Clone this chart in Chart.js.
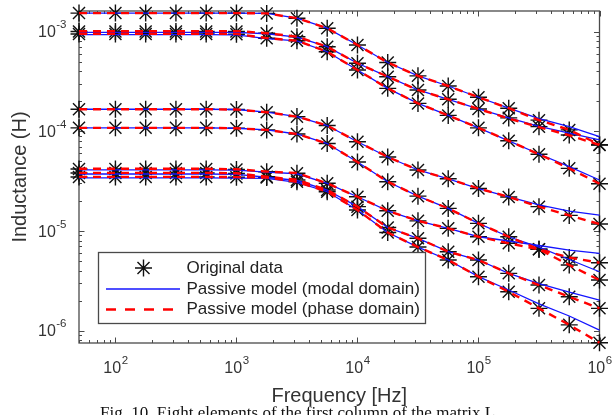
<!DOCTYPE html>
<html><head><meta charset="utf-8">
<script src="https://cdn.jsdelivr.net/npm/chart.js@4.4.1/dist/chart.umd.min.js"></script>
<style>html,body{margin:0;padding:0;background:#fff;}canvas{display:block;}</style>
</head><body>
<canvas id="c" width="615" height="415"></canvas>
<script>
// ---------- data ----------
const freqHz = [50,100,177.8,316.2,562.3,1000,1778,3162,5623,10000,17783,31623,56234,100000,177828,316228,562341,1000000];

// Original data (asterisks), eight elements
const dataA = [1.53e-3,1.53e-3,1.53e-3,1.53e-3,1.53e-3,1.53e-3,1.52e-3,1.36e-3,1.08e-3,7.32e-4,4.89e-4,3.59e-4,2.84e-4,2.19e-4,1.70e-4,1.29e-4,1.03e-4,7.32e-5];
const dataB = [1.00e-3,1.00e-3,1.00e-3,1.00e-3,1.00e-3,1.00e-3,9.59e-4,8.87e-4,7.04e-4,4.80e-4,3.52e-4,2.59e-4,2.09e-4,1.67e-4,1.36e-4,1.11e-4,9.15e-5,7.27e-5];
const dataC = [9.44e-4,9.44e-4,9.44e-4,9.44e-4,9.44e-4,9.40e-4,8.55e-4,8.09e-4,6.27e-4,4.11e-4,2.69e-4,1.90e-4,1.44e-4,1.08e-4,8.01e-5,5.87e-5,4.24e-5,2.97e-5];
const dataD = [1.66e-4,1.66e-4,1.66e-4,1.66e-4,1.66e-4,1.65e-4,1.55e-4,1.40e-4,1.14e-4,7.84e-5,5.51e-5,4.08e-5,3.33e-5,2.66e-5,2.19e-5,1.75e-5,1.43e-5,1.17e-5];
const dataE = [1.08e-4,1.08e-4,1.08e-4,1.08e-4,1.08e-4,1.07e-4,1.03e-4,9.37e-5,7.52e-5,4.91e-5,3.11e-5,2.23e-5,1.68e-5,1.19e-5,8.73e-6,6.53e-6,4.54e-6,3.21e-6];
const dataF = [4.17e-5,4.17e-5,4.17e-5,4.17e-5,4.17e-5,4.12e-5,3.92e-5,3.78e-5,3.00e-5,2.20e-5,1.59e-5,1.26e-5,1.06e-5,8.73e-6,7.50e-6,6.53e-6,5.40e-6,4.79e-6];
const dataG = [3.80e-5,3.80e-5,3.80e-5,3.80e-5,3.80e-5,3.76e-5,3.49e-5,3.24e-5,2.57e-5,1.75e-5,1.08e-5,8.42e-6,6.18e-6,5.10e-6,3.75e-6,2.86e-6,2.18e-6,1.67e-6];
const dataH = [3.47e-5,3.47e-5,3.47e-5,3.47e-5,3.47e-5,3.45e-5,3.43e-5,3.11e-5,2.47e-5,1.62e-5,9.62e-6,6.88e-6,5.10e-6,3.47e-6,2.45e-6,1.67e-6,1.14e-6,7.54e-7];

// Passive model (modal domain) - blue solid
const modalA = [1.53e-3,1.53e-3,1.53e-3,1.53e-3,1.53e-3,1.53e-3,1.52e-3,1.36e-3,1.08e-3,7.32e-4,4.89e-4,3.59e-4,2.84e-4,2.19e-4,1.70e-4,1.34e-4,1.11e-4,8.80e-5];
const modalB = [9.80e-4,9.80e-4,9.80e-4,9.80e-4,9.80e-4,9.78e-4,9.50e-4,8.80e-4,7.04e-4,4.80e-4,3.52e-4,2.59e-4,2.09e-4,1.67e-4,1.36e-4,1.12e-4,9.58e-5,8.16e-5];
const modalC = [9.30e-4,9.30e-4,9.30e-4,9.30e-4,9.30e-4,9.26e-4,8.50e-4,8.05e-4,6.27e-4,4.11e-4,2.69e-4,1.90e-4,1.44e-4,1.08e-4,8.01e-5,5.90e-5,4.41e-5,3.24e-5];
const modalD = [1.66e-4,1.66e-4,1.66e-4,1.66e-4,1.66e-4,1.65e-4,1.55e-4,1.40e-4,1.14e-4,7.84e-5,5.51e-5,4.08e-5,3.33e-5,2.66e-5,2.19e-5,1.82e-5,1.58e-5,1.44e-5];
const modalE = [1.08e-4,1.08e-4,1.08e-4,1.08e-4,1.08e-4,1.07e-4,1.03e-4,9.37e-5,7.52e-5,4.91e-5,3.11e-5,2.23e-5,1.68e-5,1.19e-5,8.73e-6,6.88e-6,5.16e-6,3.89e-6];
const modalF = [4.10e-5,4.10e-5,4.10e-5,4.10e-5,4.10e-5,4.06e-5,3.88e-5,3.74e-5,3.00e-5,2.20e-5,1.59e-5,1.26e-5,1.06e-5,8.73e-6,7.91e-6,7.13e-6,6.42e-6,5.95e-6];
const modalG = [3.72e-5,3.72e-5,3.72e-5,3.72e-5,3.72e-5,3.68e-5,3.45e-5,3.20e-5,2.57e-5,1.75e-5,1.08e-5,8.42e-6,6.18e-6,5.10e-6,3.75e-6,2.96e-6,2.43e-6,2.02e-6];
const modalH = [3.40e-5,3.40e-5,3.40e-5,3.40e-5,3.40e-5,3.38e-5,3.36e-5,3.07e-5,2.47e-5,1.62e-5,9.62e-6,6.88e-6,5.10e-6,3.47e-6,2.55e-6,1.85e-6,1.40e-6,1.01e-6];

// Passive model (phase domain) - red dashed
const phaseA = [1.53e-3,1.53e-3,1.53e-3,1.53e-3,1.53e-3,1.53e-3,1.52e-3,1.36e-3,1.08e-3,7.32e-4,4.89e-4,3.59e-4,2.84e-4,2.19e-4,1.70e-4,1.29e-4,1.03e-4,7.32e-5];
const phaseB = [1.01e-3,1.01e-3,1.01e-3,1.01e-3,1.01e-3,1.01e-3,9.62e-4,8.87e-4,7.04e-4,4.80e-4,3.52e-4,2.59e-4,2.09e-4,1.67e-4,1.34e-4,1.10e-4,9.10e-5,7.27e-5];
const phaseC = [9.50e-4,9.50e-4,9.50e-4,9.50e-4,9.50e-4,9.46e-4,8.58e-4,8.09e-4,6.27e-4,4.11e-4,2.69e-4,1.90e-4,1.44e-4,1.08e-4,8.01e-5,5.87e-5,4.24e-5,2.97e-5];
const phaseD = [1.66e-4,1.66e-4,1.66e-4,1.66e-4,1.66e-4,1.65e-4,1.55e-4,1.40e-4,1.14e-4,7.84e-5,5.51e-5,4.08e-5,3.33e-5,2.66e-5,2.19e-5,1.75e-5,1.43e-5,1.17e-5];
const phaseE = [1.08e-4,1.08e-4,1.08e-4,1.08e-4,1.08e-4,1.07e-4,1.03e-4,9.37e-5,7.52e-5,4.91e-5,3.11e-5,2.23e-5,1.68e-5,1.19e-5,8.73e-6,6.53e-6,4.54e-6,3.21e-6];
const phaseF = [4.20e-5,4.20e-5,4.20e-5,4.20e-5,4.20e-5,4.15e-5,3.94e-5,3.80e-5,3.00e-5,2.20e-5,1.59e-5,1.26e-5,1.06e-5,8.73e-6,7.50e-6,6.53e-6,5.40e-6,4.79e-6];
const phaseG = [3.82e-5,3.82e-5,3.82e-5,3.82e-5,3.82e-5,3.78e-5,3.50e-5,3.25e-5,2.57e-5,1.75e-5,1.08e-5,8.42e-6,6.18e-6,5.10e-6,3.75e-6,2.86e-6,2.18e-6,1.67e-6];
const phaseH = [3.48e-5,3.48e-5,3.48e-5,3.48e-5,3.48e-5,3.46e-5,3.43e-5,3.11e-5,2.47e-5,1.62e-5,9.62e-6,6.88e-6,5.10e-6,3.47e-6,2.45e-6,1.67e-6,1.14e-6,7.54e-7];

// axes / text
const xTickExponents = [2,3,4,5,6];
const yTickExponents = [-6,-5,-4,-3];
const xTitle = 'Frequency [Hz]';
const yTitle = 'Inductance (H)';
const legendLabels = ['Original data','Passive model (modal domain)','Passive model (phase domain)'];
const captionText = 'Fig. 10. Eight elements of the first column of the matrix L.';

// ---------- chart ----------
const dataSets = [dataA,dataB,dataC,dataD,dataE,dataF,dataG,dataH];
const modalSets = [modalA,modalB,modalC,modalD,modalE,modalF,modalG,modalH];
const phaseSets = [phaseA,phaseB,phaseC,phaseD,phaseE,phaseF,phaseG,phaseH];
const pts = arr => arr.map((v,i)=>({x:freqHz[i], y:v}));

const BLUE = '#1414ff', RED = '#ff0000', MARK = '#111111', AXIS = '#4a4a4a';
const FONT = '"Liberation Sans", Arial, Helvetica, sans-serif';
const MARKER_R = 8.5, MARKER_W = 1.4;

const datasets = [];
for (let k = 0; k < 8; k++) {
  datasets.push({label:'phase', data: pts(phaseSets[k]), borderColor: RED, borderWidth: 2.4,
    borderDash:[8,6], pointRadius:0, tension:0, fill:false, order:1, clip:false});
  datasets.push({label:'modal', data: pts(modalSets[k]), borderColor: BLUE, borderWidth: 1.3,
    pointRadius:0, tension:0, fill:false, order:2, clip:false});
  datasets.push({label:'data', data: pts(dataSets[k]), showLine:false, pointStyle:'star',
    pointRadius: MARKER_R, pointBorderColor: MARK, pointBackgroundColor: MARK, pointBorderWidth: MARKER_W,
    order:3, clip:false});
}

function drawPow(ctx, exp, x, y, align) {
  ctx.font = '16px ' + FONT;
  const wb = ctx.measureText('10').width;
  ctx.font = '11.5px ' + FONT;
  const sup = String(exp);
  const ws = ctx.measureText(sup).width;
  const total = wb + ws;
  let x0 = align === 'center' ? x - total/2 : x - total;
  ctx.textAlign = 'left'; ctx.textBaseline = 'middle';
  ctx.fillStyle = '#333';
  ctx.font = '16px ' + FONT;
  ctx.fillText('10', x0, y);
  ctx.font = '11.5px ' + FONT;
  ctx.fillText(sup, x0 + wb + 0.5, y - 8);
}

const matlabAxes = {
  id: 'matlabAxes',
  beforeDatasetsDraw(chart) {
    const ctx = chart.ctx, a = chart.chartArea;
    const xs = chart.scales.x, ys = chart.scales.y;
    ctx.save();
    ctx.strokeStyle = AXIS; ctx.lineWidth = 1.3;
    ctx.strokeRect(a.left, a.top, a.right - a.left, a.bottom - a.top);
    ctx.lineWidth = 1;
    // x ticks
    for (let n = 1; n <= 6; n++) for (let k = 1; k <= 9; k++) {
      const v = k * Math.pow(10, n);
      if (v < xs.min * 0.999 || v > xs.max * 1.001) continue;
      const px = Math.round(xs.getPixelForValue(v)) + 0.5;
      const len = k === 1 ? 5.5 : 3;
      ctx.beginPath();
      ctx.moveTo(px, a.bottom); ctx.lineTo(px, a.bottom - len);
      ctx.moveTo(px, a.top); ctx.lineTo(px, a.top + len);
      ctx.stroke();
    }
    // y ticks
    for (let n = -7; n <= -3; n++) for (let k = 1; k <= 9; k++) {
      const v = k * Math.pow(10, n);
      if (v < ys.min * 0.999 || v > ys.max * 1.001) continue;
      const py = Math.round(ys.getPixelForValue(v)) + 0.5;
      const len = k === 1 ? 5.5 : 3;
      ctx.beginPath();
      ctx.moveTo(a.left, py); ctx.lineTo(a.left + len, py);
      ctx.moveTo(a.right, py); ctx.lineTo(a.right - len, py);
      ctx.stroke();
    }
    // tick labels
    xTickExponents.forEach(e => drawPow(ctx, e, xs.getPixelForValue(Math.pow(10, e)), a.bottom + 26, 'center'));
    yTickExponents.forEach(e => drawPow(ctx, e, a.left - 13, ys.getPixelForValue(Math.pow(10, e)) + 1.5, 'right'));
    // titles
    ctx.fillStyle = '#333';
    ctx.font = '20px ' + FONT;
    ctx.textAlign = 'center'; ctx.textBaseline = 'alphabetic';
    ctx.fillText(xTitle, (a.left + a.right) / 2, 401.5);
    ctx.save();
    ctx.translate(25.5, (a.top + a.bottom) / 2);
    ctx.rotate(-Math.PI / 2);
    ctx.fillText(yTitle, 0, 0);
    ctx.restore();
    // caption
    ctx.fillStyle = '#111';
    ctx.font = '17px "Liberation Serif", "Times New Roman", serif';
    ctx.textAlign = 'left';
    ctx.fillText(captionText, 100, 418);
    ctx.restore();
  },
  afterDatasetsDraw(chart) {
    const ctx = chart.ctx;
    ctx.save();
    // legend box
    const bx = 98.5, by = 252.5, bw = 327, bh = 71;
    ctx.fillStyle = '#fff';
    ctx.fillRect(bx, by, bw, bh);
    ctx.strokeStyle = AXIS; ctx.lineWidth = 1.3;
    ctx.strokeRect(bx, by, bw, bh);
    const rows = [268, 289, 309.5];
    // star marker
    const cx = 143.5, cy = rows[0], r = MARKER_R;
    ctx.strokeStyle = MARK; ctx.lineWidth = MARKER_W;
    ctx.beginPath();
    for (let i = 0; i < 4; i++) {
      const ang = i * Math.PI / 4;
      ctx.moveTo(cx - r * Math.cos(ang), cy - r * Math.sin(ang));
      ctx.lineTo(cx + r * Math.cos(ang), cy + r * Math.sin(ang));
    }
    ctx.stroke();
    // blue line
    ctx.strokeStyle = BLUE; ctx.lineWidth = 1.3;
    ctx.beginPath(); ctx.moveTo(106, rows[1]); ctx.lineTo(180, rows[1]); ctx.stroke();
    // red dashed
    ctx.strokeStyle = RED; ctx.lineWidth = 2.4; ctx.setLineDash([10, 9]);
    ctx.beginPath(); ctx.moveTo(106, rows[2]); ctx.lineTo(180, rows[2]); ctx.stroke();
    ctx.setLineDash([]);
    ctx.fillStyle = '#222';
    ctx.font = '17px ' + FONT;
    ctx.textAlign = 'left'; ctx.textBaseline = 'middle';
    legendLabels.forEach((t, i) => ctx.fillText(t, 186.5, rows[i]));
    ctx.restore();
  }
};

new Chart(document.getElementById('c'), {
  type: 'line',
  data: { datasets },
  options: {
    responsive: false,
    animation: false,
    events: [],
    layout: { padding: { left: 79, right: 15.5, top: 11, bottom: 72 } },
    scales: {
      x: { type: 'logarithmic', min: 50, max: 1e6, display: false },
      y: { type: 'logarithmic', min: 7.5e-7, max: 1.606e-3, display: false }
    },
    plugins: { legend: { display: false }, tooltip: { enabled: false } }
  },
  plugins: [matlabAxes]
});
</script>
</body></html>
